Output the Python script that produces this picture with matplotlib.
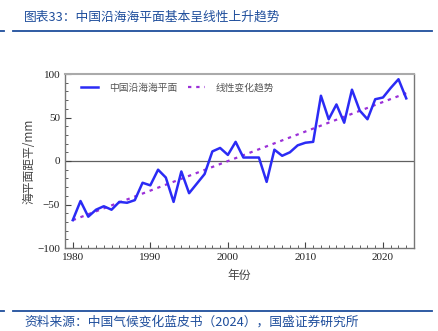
import matplotlib
matplotlib.use("Agg")
import matplotlib.pyplot as plt
from matplotlib.lines import Line2D

plt.rcParams['font.family'] = ['Noto Sans CJK SC', 'DejaVu Sans']

years = list(range(1980, 2024))
sea_level = [-68, -46, -64, -56, -52, -56, -47, -48, -45, -25, -28, -10, -19, -47, -12,
             -37, -26, -15, 11, 15, 7, 22, 4, 4, 4, -24, 13, 6, 10, 18,
             21, 22, 75, 48, 65, 44, 82, 58, 48, 71, 73, 84, 94, 72]
trend_years = [1980, 2023]
trend_values = [-68, 78]

title = "图表33：中国沿海海平面基本呈线性上升趋势"
source = "资料来源：中国气候变化蓝皮书（2024），国盛证券研究所"
series_label = "中国沿海海平面"
trend_label = "线性变化趋势"
y_label = "海平面距平/mm"
x_label = "年份"
x_ticks = [1980, 1990, 2000, 2010, 2020]
y_ticks = [-100, -50, 0, 50, 100]

fig = plt.figure(figsize=(4.39, 3.31), dpi=100)
ax = fig.add_axes([65/439, 1-248/331, (414-65)/439, (248-74)/331])

ax.plot(years, sea_level, color='#2b2bf5', lw=1.8, label=series_label, zorder=3)
ax.plot(trend_years, trend_values, color='#9b30d8', lw=1.6, ls=(0, (1.5, 2.2)),
        label=trend_label, zorder=2)
ax.axhline(0, color='#606060', lw=0.9, zorder=1)

ax.set_xlim(1979, 2024)
ax.set_ylim(-100, 100)
ax.set_xticks(x_ticks)
ax.set_yticks(y_ticks)
ax.set_xticks(range(1979, 2025), minor=True)
ax.set_yticks(range(-100, 101, 10), minor=True)
ax.tick_params(direction='in', which='both', color='#444444', labelsize=8,
               top=False, right=False)
ax.tick_params(which='major', length=4, width=0.8)
ax.tick_params(which='minor', length=2.5, width=0.6)
for lab in ax.get_xticklabels() + ax.get_yticklabels():
    lab.set_family(['Liberation Serif', 'DejaVu Serif'])
    lab.set_color('#222222')
for s in ax.spines.values():
    s.set_color('#777777')
    s.set_linewidth(1.0)
ax.spines['top'].set_color('#aaaaaa')
ax.spines['top'].set_linewidth(1.5)

ax.set_ylabel(y_label, fontsize=8.5, color='#444444', labelpad=1)
ax.set_xlabel(x_label, fontsize=8.5, color='#444444', labelpad=5)

leg = ax.legend(loc='upper left', ncol=2, frameon=False, fontsize=7,
                handlelength=1.8, columnspacing=1.1, handletextpad=1.1,
                bbox_to_anchor=(0.02, 1.0), labelcolor='#555555')

# header / footer
fig.text(24/439, 1-17/331, title, fontsize=9.2, color='#1f4e9c', style='italic',
         va='center', ha='left')
fig.add_artist(Line2D([13/439, 432/439], [1-31/331, 1-31/331], color='#1f4e9c', lw=1.3))
fig.add_artist(Line2D([0, 4/439], [1-31/331, 1-31/331], color='#1f4e9c', lw=1.3))
fig.add_artist(Line2D([13/439, 432/439], [1-311/331, 1-311/331], color='#1f4e9c', lw=1.3))
fig.add_artist(Line2D([0, 4/439], [1-311/331, 1-311/331], color='#1f4e9c', lw=1.3))
fig.text(24/439, 1-322/331, source, fontsize=9.2, color='#1f4e9c', style='italic',
         va='center', ha='left')

fig.savefig('out.png', dpi=100)
